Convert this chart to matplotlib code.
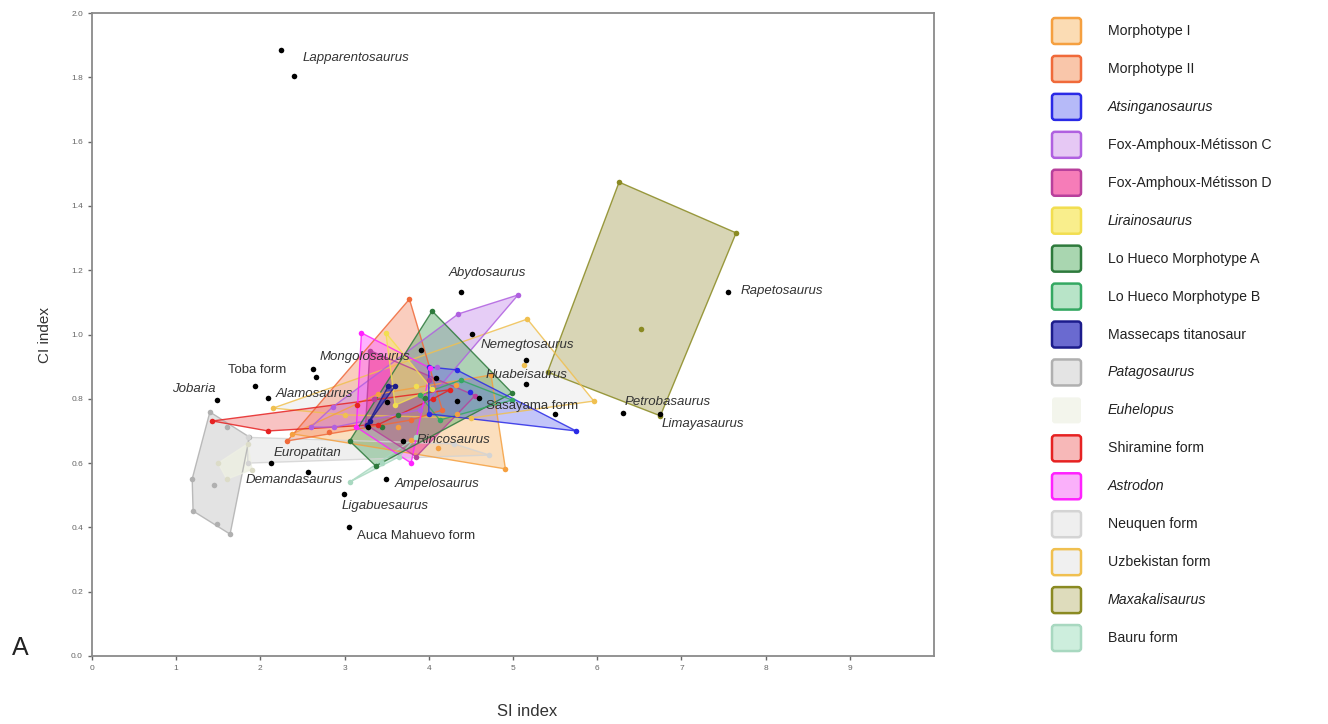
import matplotlib
matplotlib.use("Agg")
import matplotlib.pyplot as plt
from matplotlib.patches import FancyBboxPatch
import numpy as np

plt.rcParams['font.family'] = ['Liberation Sans', 'DejaVu Sans']

# ---------------- data: groups (SI index, CI index) ----------------
groups = [
    "Morphotype I", "Morphotype II", "Atsinganosaurus", "Fox-Amphoux-Métisson C",
    "Fox-Amphoux-Métisson D", "Lirainosaurus", "Lo Hueco Morphotype A",
    "Lo Hueco Morphotype B", "Massecaps titanosaur", "Patagosaurus", "Euhelopus",
    "Shiramine form", "Astrodon", "Neuquen form", "Uzbekistan form",
    "Maxakalisaurus", "Bauru form",
]
italic_groups = {"Atsinganosaurus", "Lirainosaurus", "Patagosaurus", "Euhelopus",
                 "Astrodon", "Maxakalisaurus"}

si_morph1 = [2.38, 3.40, 4.32, 4.74, 4.91, 4.11, 3.79, 4.34, 3.63]
ci_morph1 = [0.691, 0.815, 0.843, 0.874, 0.582, 0.647, 0.672, 0.753, 0.712]
si_morph2 = [2.32, 3.77, 4.16, 3.79, 2.82]
ci_morph2 = [0.669, 1.110, 0.765, 0.734, 0.697]
si_atsing = [4.00, 4.33, 5.75, 4.00, 4.49]
ci_atsing = [0.899, 0.890, 0.700, 0.753, 0.821]
si_famc = [2.60, 2.86, 2.88, 4.10, 4.35, 5.06, 3.89]
ci_famc = [0.712, 0.775, 0.712, 0.899, 1.064, 1.123, 0.765]
si_famd = [3.35, 4.55, 3.85, 3.25, 4.00, 3.30]
ci_famd = [0.800, 0.810, 0.620, 0.720, 0.860, 0.950]
si_lirain = [3.49, 4.04, 3.60, 3.85]
ci_lirain = [1.005, 0.830, 0.780, 0.840]
si_lha = [4.04, 4.99, 3.37, 3.06, 3.63, 3.44, 3.95]
ci_lha = [1.073, 0.818, 0.591, 0.669, 0.750, 0.712, 0.802]
si_lhb = [4.38, 4.99, 4.13, 3.89]
ci_lhb = [0.858, 0.796, 0.734, 0.812]
si_masse = [3.52, 3.60, 3.30, 3.27]
ci_masse = [0.840, 0.840, 0.730, 0.720]
si_patago = [1.40, 1.87, 1.64, 1.48, 1.20, 1.19, 1.45, 1.60]
ci_patago = [0.759, 0.681, 0.379, 0.411, 0.451, 0.551, 0.532, 0.712]
si_euhel = [1.50, 1.85, 1.90, 1.60]
ci_euhel = [0.600, 0.660, 0.580, 0.550]
si_shira = [1.43, 2.09, 3.15, 3.40, 4.25, 4.05]
ci_shira = [0.731, 0.700, 0.781, 0.720, 0.828, 0.800]
si_astro = [3.20, 4.02, 3.79, 3.14]
ci_astro = [1.005, 0.895, 0.600, 0.712]
si_neuq = [1.85, 1.85, 4.72, 4.30]
ci_neuq = [0.680, 0.600, 0.625, 0.660]
si_uzbek = [2.15, 5.17, 5.96, 4.50, 3.00, 5.13]
ci_uzbek = [0.771, 1.048, 0.793, 0.740, 0.750, 0.905]
si_maxak = [6.26, 7.65, 6.75, 5.41, 6.52]
ci_maxak = [1.474, 1.316, 0.747, 0.883, 1.017]
si_bauru = [3.06, 3.65, 3.85, 3.45]
ci_bauru = [0.541, 0.620, 0.680, 0.600]

group_si = [si_morph1, si_morph2, si_atsing, si_famc, si_famd, si_lirain, si_lha,
            si_lhb, si_masse, si_patago, si_euhel, si_shira, si_astro, si_neuq,
            si_uzbek, si_maxak, si_bauru]
group_ci = [ci_morph1, ci_morph2, ci_atsing, ci_famc, ci_famd, ci_lirain, ci_lha,
            ci_lhb, ci_masse, ci_patago, ci_euhel, ci_shira, ci_astro, ci_neuq,
            ci_uzbek, ci_maxak, ci_bauru]

# individual taxa (black points)
taxa = ["Lapparentosaurus", "Lapparentosaurus", "Abydosaurus", "Rapetosaurus",
        "Mongolosaurus", "Mongolosaurus", "Nemegtosaurus", "Toba form", "Huabeisaurus",
        "Jobaria", "Alamosaurus", "Sasayama form", "Petrobasaurus", "Limayasaurus",
        "Rincosaurus", "Europatitan", "Demandasaurus", "Ampelosaurus", "Ligabuesaurus",
        "Auca Mahuevo form"]
taxa_si = [2.24, 2.40, 4.38, 7.55, 2.63, 2.66, 5.16, 1.94, 5.15, 1.49, 2.09, 5.50,
           6.31, 6.75, 3.69, 2.13, 2.56, 3.49, 2.99, 3.05]
taxa_ci = [1.885, 1.804, 1.132, 1.132, 0.893, 0.868, 0.921, 0.840, 0.846, 0.796,
           0.802, 0.753, 0.756, 0.753, 0.669, 0.600, 0.572, 0.551, 0.504, 0.401]
other_si = [3.91, 4.51, 3.28, 4.09, 4.33, 4.60, 3.50]
other_ci = [0.952, 1.002, 0.712, 0.865, 0.793, 0.803, 0.790]

# ---------------- styles ----------------
edge_cols = ["#f5a040", "#f06a3a", "#2a2ae6", "#b060e0", "#b8409c", "#f2de50",
             "#2e7a3c", "#34a862", "#1c1c8c", "#b0b0b0", "#eef0e4", "#e62222",
             "#ff22ff", "#d4d4d4", "#f0c050", "#8a8a22", "#a8d8c0"]
fill_cols = ["#f8b870", "#f59070", "#6a70f0", "#c890ec", "#f03c98", "#f7e870",
             "#5aaa6a", "#6cc890", "#3838b8", "#cccccc", "#eef0e2", "#f07a7a",
             "#ff66ff", "#e2e2e2", "#e6e6e6", "#b8b478", "#a8dcc0"]
fill_alpha = [0.45, 0.45, 0.40, 0.45, 0.55, 0.55, 0.45, 0.40, 0.70, 0.55, 0.8,
              0.45, 0.5, 0.55, 0.45, 0.55, 0.45]
legend_fill = ["#fbdcb4", "#f9c6aa", "#b6baf8", "#e6c8f4", "#f67cb8", "#f9ee8c",
               "#a9d6b0", "#b8e4c8", "#6a6ad0", "#e4e4e4", "#f3f5ec", "#f7b8b8",
               "#fab0fa", "#efefef", "#f0f0f0", "#dedcbc", "#cdeedd"]

label_pos = {
    "Lapparentosaurus": (2.50, 1.860), "Abydosaurus": (4.23, 1.191),
    "Rapetosaurus": (7.70, 1.135), "Mongolosaurus": (2.70, 0.930),
    "Nemegtosaurus": (4.62, 0.967), "Toba form": (1.61, 0.890),
    "Huabeisaurus": (4.68, 0.874), "Jobaria": (0.95, 0.830),
    "Alamosaurus": (2.18, 0.815), "Sasayama form": (4.68, 0.778),
    "Petrobasaurus": (6.32, 0.790), "Limayasaurus": (6.77, 0.722),
    "Rincosaurus": (3.85, 0.672), "Europatitan": (2.16, 0.631),
    "Demandasaurus": (1.83, 0.547), "Ampelosaurus": (3.60, 0.535),
    "Ligabuesaurus": (2.96, 0.467), "Auca Mahuevo form": (3.15, 0.373),
}
upright = {"Toba form", "Sasayama form", "Auca Mahuevo form"}


def hull(xs, ys):
    pts = sorted(set(zip(xs, ys)))
    if len(pts) < 3:
        return pts

    def cross(o, a, b):
        return (a[0] - o[0]) * (b[1] - o[1]) - (a[1] - o[1]) * (b[0] - o[0])
    lower, upper = [], []
    for p in pts:
        while len(lower) >= 2 and cross(lower[-2], lower[-1], p) <= 0:
            lower.pop()
        lower.append(p)
    for p in reversed(pts):
        while len(upper) >= 2 and cross(upper[-2], upper[-1], p) <= 0:
            upper.pop()
        upper.append(p)
    return lower[:-1] + upper[:-1]


W, H = 1328, 724
fig = plt.figure(figsize=(W / 100, H / 100), dpi=100)
ax = fig.add_axes([92 / W, (H - 656) / H, (934 - 92) / W, (656 - 13) / H])

draw_order = [15, 14, 13, 9, 10, 16, 0, 1, 11, 3, 12, 4, 6, 7, 5, 2, 8]
for z, i in enumerate(draw_order):
    h = hull(group_si[i], group_ci[i])
    hx = [p[0] for p in h]
    hy = [p[1] for p in h]
    ax.fill(hx, hy, facecolor=fill_cols[i], alpha=fill_alpha[i], edgecolor='none',
            zorder=2 + z * 0.01)
    ax.plot(hx + hx[:1], hy + hy[:1], color=edge_cols[i], lw=1.0, alpha=0.85,
            zorder=2.5 + z * 0.01)
for i in range(len(groups)):
    pc = edge_cols[i] if i != 10 else "#dcdcc8"
    ax.scatter(group_si[i], group_ci[i], s=16, color=pc, zorder=4, linewidths=0)

ax.scatter(taxa_si, taxa_ci, s=16, color="black", zorder=5, linewidths=0)
ax.scatter(other_si, other_ci, s=16, color="black", zorder=5, linewidths=0)

for name, (lx, ly) in label_pos.items():
    ax.text(lx, ly, name, fontsize=9.5, color="#333333", va='center', ha='left',
            style='normal' if name in upright else 'italic', zorder=6)

ax.set_xlim(0, 10)
ax.set_ylim(0, 2.0)
ax.set_xticks(range(10))
ax.set_yticks(np.arange(0, 2.01, 0.2))
ax.set_yticklabels([f"{v:.1f}" for v in np.arange(0, 2.01, 0.2)])
ax.tick_params(labelsize=6, colors="#666666", length=3, width=1, direction='out')
for sp in ax.spines.values():
    sp.set_color("#8a8a8a")
    sp.set_linewidth(1.3)

fig.text(527 / W, 1 - 712 / H, "SI index", fontsize=12, color="#333333",
         ha='center', va='center')
fig.text(45 / W, 1 - 335 / H, "CI index", fontsize=11, color="#333333",
         ha='center', va='center', rotation=90)
fig.text(20 / W, 1 - 648 / H, "A", fontsize=18, color="#222222",
         ha='center', va='center')

# legend
lax = fig.add_axes([0, 0, 1, 1], facecolor='none')
lax.set_xlim(0, W)
lax.set_ylim(H, 0)
lax.axis('off')
y0, dy = 31, 37.94
for i, g in enumerate(groups):
    yc = y0 + i * dy
    ec = edge_cols[i] if i != 10 else "none"
    lax.add_patch(FancyBboxPatch((1052, yc - 13), 29, 26,
                                 boxstyle="round,pad=0,rounding_size=3",
                                 facecolor=legend_fill[i], edgecolor=ec, lw=1.8))
    lax.text(1108, yc, g, fontsize=10.2, color="#222222", va='center', ha='left',
             style='italic' if g in italic_groups else 'normal')

fig.savefig("out.png", dpi=100)
